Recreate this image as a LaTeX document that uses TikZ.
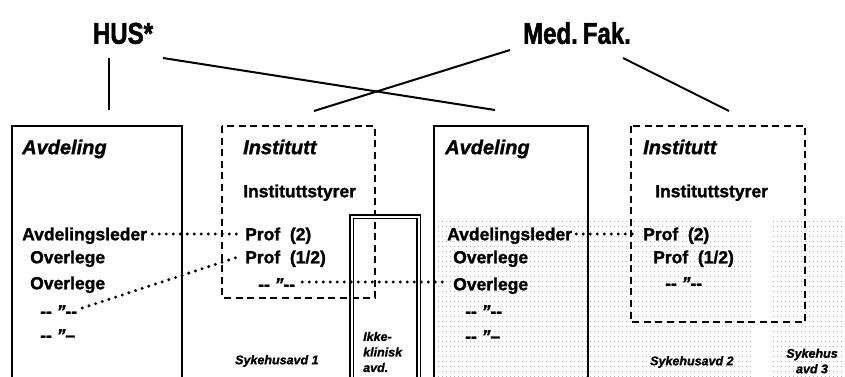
\documentclass[tikz,border=0pt]{standalone}
\usepackage{fontspec}
\setmainfont{Liberation Sans}[BoldFeatures={FakeBold=1.4}, BoldItalicFeatures={FakeBold=1.3}]
\newfontfamily\headfont[FakeStretch=0.8, BoldFeatures={FakeBold=1.6}]{Liberation Sans}
\definecolor{dotgray}{gray}{0.7}
\begin{document}
\begin{tikzpicture}[x=1pt,y=-1pt,
  txt/.style={inner sep=0pt, anchor=west, font=\fontsize{17.5}{20}\selectfont\bfseries, text height=12.5pt, text depth=0pt},
  head/.style={inner sep=0pt, anchor=west, font=\fontsize{20}{24}\selectfont\bfseries\itshape, text height=14.3pt, text depth=0pt},
  small/.style={inner sep=0pt, font=\fontsize{12.5}{15.5}\selectfont\bfseries\itshape, align=left},
  title/.style={inner sep=0pt, font=\headfont\fontsize{30}{34}\selectfont\bfseries, text height=21.5pt, text depth=0pt},
  solidbox/.style={draw, line width=1.8pt},
  dashbox/.style={draw, line width=1.8pt, dash pattern=on 7pt off 4.6pt},
  dblbox/.style={draw, line width=1.1pt, double=white, double distance=2pt},
  link/.style={line width=2pt},
  conn/.style={line width=3.3pt, line cap=round, dash pattern=on 0pt off 7pt}]
\clip (0,0) rectangle (845,376);
\fill[white] (0,0) rectangle (845,376);
% dotted background
\foreach \x in {438,442,...,752} \foreach \y in {221,226,...,376} \fill[dotgray] (\x,\y) rectangle +(1.2,1);
\foreach \x in {773,777,...,845} \foreach \y in {221,226,...,376} \fill[dotgray] (\x,\y) rectangle +(1.2,1);
% boxes
\draw[solidbox] (12,390) -- (12,126) -- (182,126) -- (182,390);
\draw[dashbox] (222,126) rectangle (375,298);
\draw[dblbox] (351.5,400) -- (351.5,216.5) -- (418.5,216.5) -- (418.5,400);
\draw[solidbox] (434,390) -- (434,126) -- (588,126) -- (588,390);
\draw[dashbox] (631,126) rectangle (805,322);
% titles
\node[title] (hus) at (123,33) {HUS*};
\node[title] (med) at (577,33) {Med.\,Fak.};
\coordinate (husA) at (109,58);
\coordinate (avd1top) at (109,110);
\coordinate (husB) at (163,58);
\coordinate (avd2top) at (495,110);
\coordinate (medA) at (510,50);
\coordinate (inst1top) at (314,111);
\coordinate (medB) at (623,58);
\coordinate (inst2top) at (729,111);
\draw[link] (husA) -- (avd1top);
\draw[link] (husB) -- (avd2top);
\draw[link] (medA) -- (inst1top);
\draw[link] (medB) -- (inst2top);
% left Avdeling
\node[head] (avd1) at (22,147) {Avdeling};
\node[txt] (al1) at (22,234) {Avdelingsleder};
\node[txt] (ol1a) at (30,257) {Overlege};
\node[txt] (ol1b) at (30,283) {Overlege};
\node[txt] (q1a) at (40,311) {-{}- {\itshape"}-{}-};
\node[txt] (q1b) at (40,335) {-{}- {\itshape"}–};
\node[small, anchor=west] (syk1) at (235,361) {Sykehusavd 1};
% Institutt 1
\node[head] (inst1) at (243,147) {Institutt};
\node[txt] (ist1) at (243,191) {Instituttstyrer};
\node[txt] (p2a) at (245,234) {Prof\ \ (2)};
\node[txt] (p12a) at (245,257) {Prof\ \ (1/2)};
\node[txt] (q1c) at (258,284) {-{}- {\itshape"}-{}-};
% Ikke-klinisk
\node[small, anchor=west] (ikke) at (363,352) {Ikke-\\klinisk\\avd.};
% right Avdeling
\node[head] (avd2) at (445,147) {Avdeling};
\node[txt] (al2) at (447,234) {Avdelingsleder};
\node[txt] (ol2a) at (453,257) {Overlege};
\node[txt] (ol2b) at (453,284) {Overlege};
\node[txt] (q2a) at (465,311) {-{}- {\itshape"}-{}-};
\node[txt] (q2b) at (465,336) {-{}- {\itshape"}–};
\node[small, anchor=west] (syk2) at (650,362) {Sykehusavd 2};
% Institutt 2
\node[head] (inst2) at (643,147) {Institutt};
\node[txt] (ist2) at (655,191) {Instituttstyrer};
\node[txt] (p2b) at (643,234) {Prof\ \ (2)};
\node[txt] (p12b) at (653,257) {Prof\ \ (1/2)};
\node[txt] (q2c) at (665,283) {-{}- {\itshape"}-{}-};
\node[small, align=center] (syk3) at (812,361) {Sykehus\\avd 3};
% dotted connectors
\draw[conn] ([xshift=5pt]al1.east) -- ([xshift=-4pt]p2a.west);
\draw[conn] ([xshift=5pt,yshift=3pt]q1a.east) -- ([xshift=-4pt,yshift=1pt]p12a.west);
\draw[conn] ([xshift=7pt,yshift=2pt]q1c.east) -- ([xshift=-5pt,yshift=2pt]ol2b.west);
\draw[conn] ([xshift=4pt]al2.east) -- ([xshift=-4pt]p2b.west);
\end{tikzpicture}
\end{document}
